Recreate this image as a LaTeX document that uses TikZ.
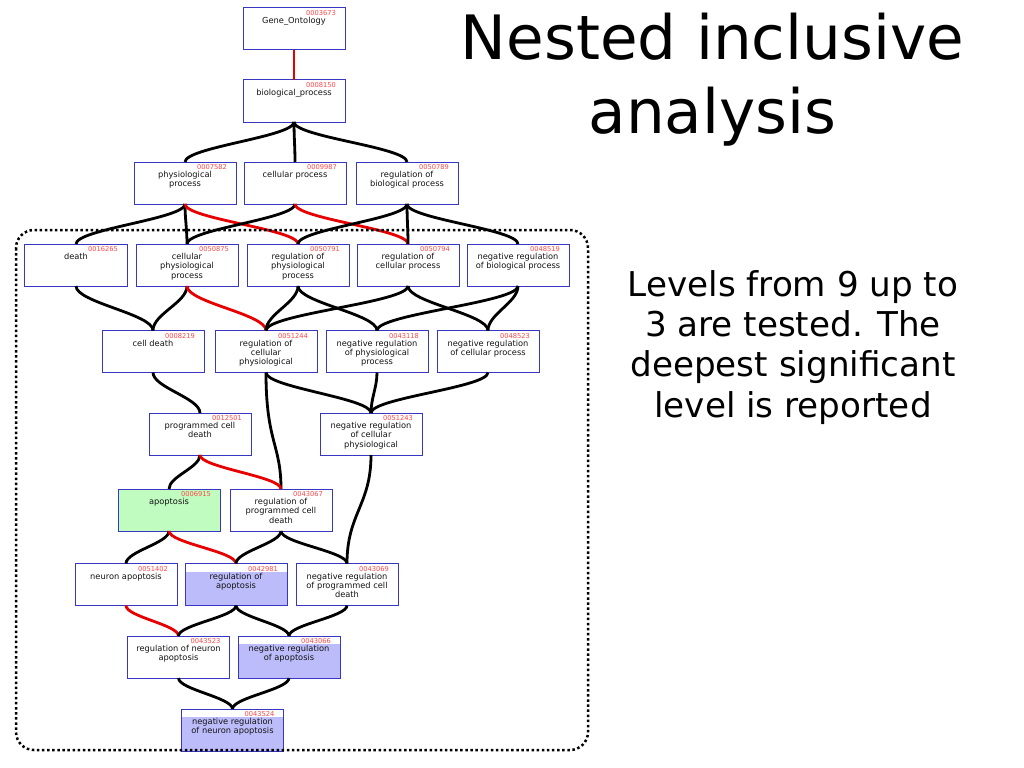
\documentclass[tikz,border=0pt]{standalone}
\usepackage{fontspec}
\setmainfont{DejaVu Sans}
\usetikzlibrary{calc}
\definecolor{boxblue}{RGB}{55,55,195}
\definecolor{idred}{RGB}{255,70,70}
\definecolor{textdark}{RGB}{20,20,20}
\definecolor{hitgreen}{RGB}{192,252,192}
\definecolor{sigblue}{RGB}{188,188,250}
\definecolor{edgered}{RGB}{230,0,0}
\newcommand{\ml}[1]{\begin{tabular}[t]{@{}c@{}}#1\end{tabular}}
\newcommand{\gonode}[6]{%
  \node[gobox,#6] (#1) at (#2,#3) {};
  \node[golabel] (#1-t) at ([yshift=-15.5bp]#1.north) {\ml{#5}};
  \node[goid] (#1-i) at ([xshift=-9bp,yshift=-2.5bp]#1.north east) {#4};
}
\newcommand{\ed}[3][edge]{%
  \path ($(#2.south)!0.37!(#3.north)$) coordinate (m1)
        ($(#2.south)!0.63!(#3.north)$) coordinate (m2);
  \draw[#1] (#2.south) .. controls (#2.south |- m1) and (#3.north |- m2) .. (#3.north);
}
\begin{document}
\begin{tikzpicture}[x=1bp,y=-1bp,
  gobox/.style={draw=boxblue, line width=1bp, fill=white, minimum width=102bp, minimum height=42bp, inner sep=0pt, outer sep=0pt},
  golabel/.style={font=\fontsize{8.3}{9.3}\selectfont, text=textdark, inner sep=0pt, anchor=base},
  goid/.style={font=\fontsize{6.7}{7}\selectfont, text=idred, inner sep=0pt, anchor=north east},
  hit/.style={fill=hitgreen},
  sig/.style={path picture={\fill[sigblue] ([yshift=-8bp]path picture bounding box.north west) rectangle (path picture bounding box.south east);}},
  edge/.style={line width=2.8bp, draw=black},
  redge/.style={line width=2.8bp, draw=edgered},
  title/.style={font=\fontsize{61.4}{74}\selectfont, anchor=base, inner sep=0pt, text=black},
  body/.style={font=\fontsize{34.3}{40.6}\selectfont, anchor=base, inner sep=0pt, text=black},
  frame/.style={draw=black, line width=2.5bp, dash pattern=on 2.5bp off 2.6bp, rounded corners=18bp}
]
\useasboundingbox (0,0) rectangle (1024,768);
\fill[white] (0,0) rectangle (1024,768);

% nodes
\gonode{go}{294}{29}{0003673}{Gene\_Ontology}{}
\gonode{bp}{294}{101}{0008150}{biological\_process}{}
\gonode{pp}{185}{183}{0007582}{physiological\\process}{}
\gonode{cp}{295}{183}{0009987}{cellular process}{}
\gonode{rbp}{407}{183}{0050789}{regulation of\\biological process}{}
\gonode{death}{76}{265}{0016265}{death}{}
\gonode{cpp}{187}{265}{0050875}{cellular\\physiological\\process}{}
\gonode{rpp}{298}{265}{0050791}{regulation of\\physiological\\process}{}
\gonode{rcp}{408}{265}{0050794}{regulation of\\cellular process}{}
\gonode{nrbp}{518}{265}{0048519}{negative regulation\\of biological process}{}
\gonode{cd}{153}{351.5}{0008219}{cell death}{}
\gonode{rcpp}{266}{351.5}{0051244}{regulation of\\cellular\\physiological}{}
\gonode{nrpp}{377}{351.5}{0043118}{negative regulation\\of physiological\\process}{}
\gonode{nrcp}{488}{351.5}{0048523}{negative regulation\\of cellular process}{}
\gonode{pcd}{200}{434}{0012501}{programmed cell\\death}{}
\gonode{nrcpp}{371}{434}{0051243}{negative regulation\\of cellular\\physiological}{}
\gonode{apo}{169}{510}{0006915}{apoptosis}{hit}
\gonode{rpcd}{281}{510}{0043067}{regulation of\\programmed cell\\death}{}
\gonode{na}{126}{584.5}{0051402}{neuron apoptosis}{}
\gonode{ra}{236}{584.5}{0042981}{regulation of\\apoptosis}{sig}
\gonode{nrpcd}{347}{584.5}{0043069}{negative regulation\\of programmed cell\\death}{}
\gonode{rna}{178.5}{657}{0043523}{regulation of neuron\\apoptosis}{}
\gonode{nra}{289}{657}{0043066}{negative regulation\\of apoptosis}{sig}
\gonode{nrna}{232.5}{730}{0043524}{negative regulation\\of neuron apoptosis}{sig}

% edges
\draw[redge] (go.south) -- (bp.north);
\ed{bp}{pp} \ed{bp}{cp} \ed{bp}{rbp}
\ed{pp}{death} \ed{pp}{cpp} \ed[redge]{pp}{rpp}
\ed{cp}{cpp} \ed[redge]{cp}{rcp}
\ed{rbp}{rpp} \ed{rbp}{rcp} \ed{rbp}{nrbp}
\ed{death}{cd} \ed{cpp}{cd} \ed[redge]{cpp}{rcpp}
\ed{rpp}{rcpp} \ed{rcp}{rcpp}
\ed{rpp}{nrpp} \ed{nrbp}{nrpp}
\ed{rcp}{nrcp} \ed{nrbp}{nrcp}
\ed{cd}{pcd}
\ed{rcpp}{nrcpp} \ed{nrpp}{nrcpp} \ed{nrcp}{nrcpp}
\draw[edge] (rcpp.south) .. controls +(0,70) and +(0,-45) .. (rpcd.north);
\ed{pcd}{apo} \ed[redge]{pcd}{rpcd}
\draw[edge] (nrcpp.south) .. controls +(0,50) and +(0,-50) .. (nrpcd.north);
\ed{apo}{na} \ed[redge]{apo}{ra}
\ed{rpcd}{ra} \ed{rpcd}{nrpcd}
\ed[redge]{na}{rna} \ed{ra}{rna}
\ed{ra}{nra} \ed{nrpcd}{nra}
\ed{rna}{nrna} \ed{nra}{nrna}

% frame
\draw[frame] (16,230) rectangle (588,750);

% texts
\node[title] (ttl) at (712.5,60) {\ml{Nested inclusive\\analysis}};
\node[body] (lev) at (793,296) {\ml{Levels from 9 up to\\3 are tested. The\\deepest significant\\level is reported}};
\end{tikzpicture}
\end{document}
